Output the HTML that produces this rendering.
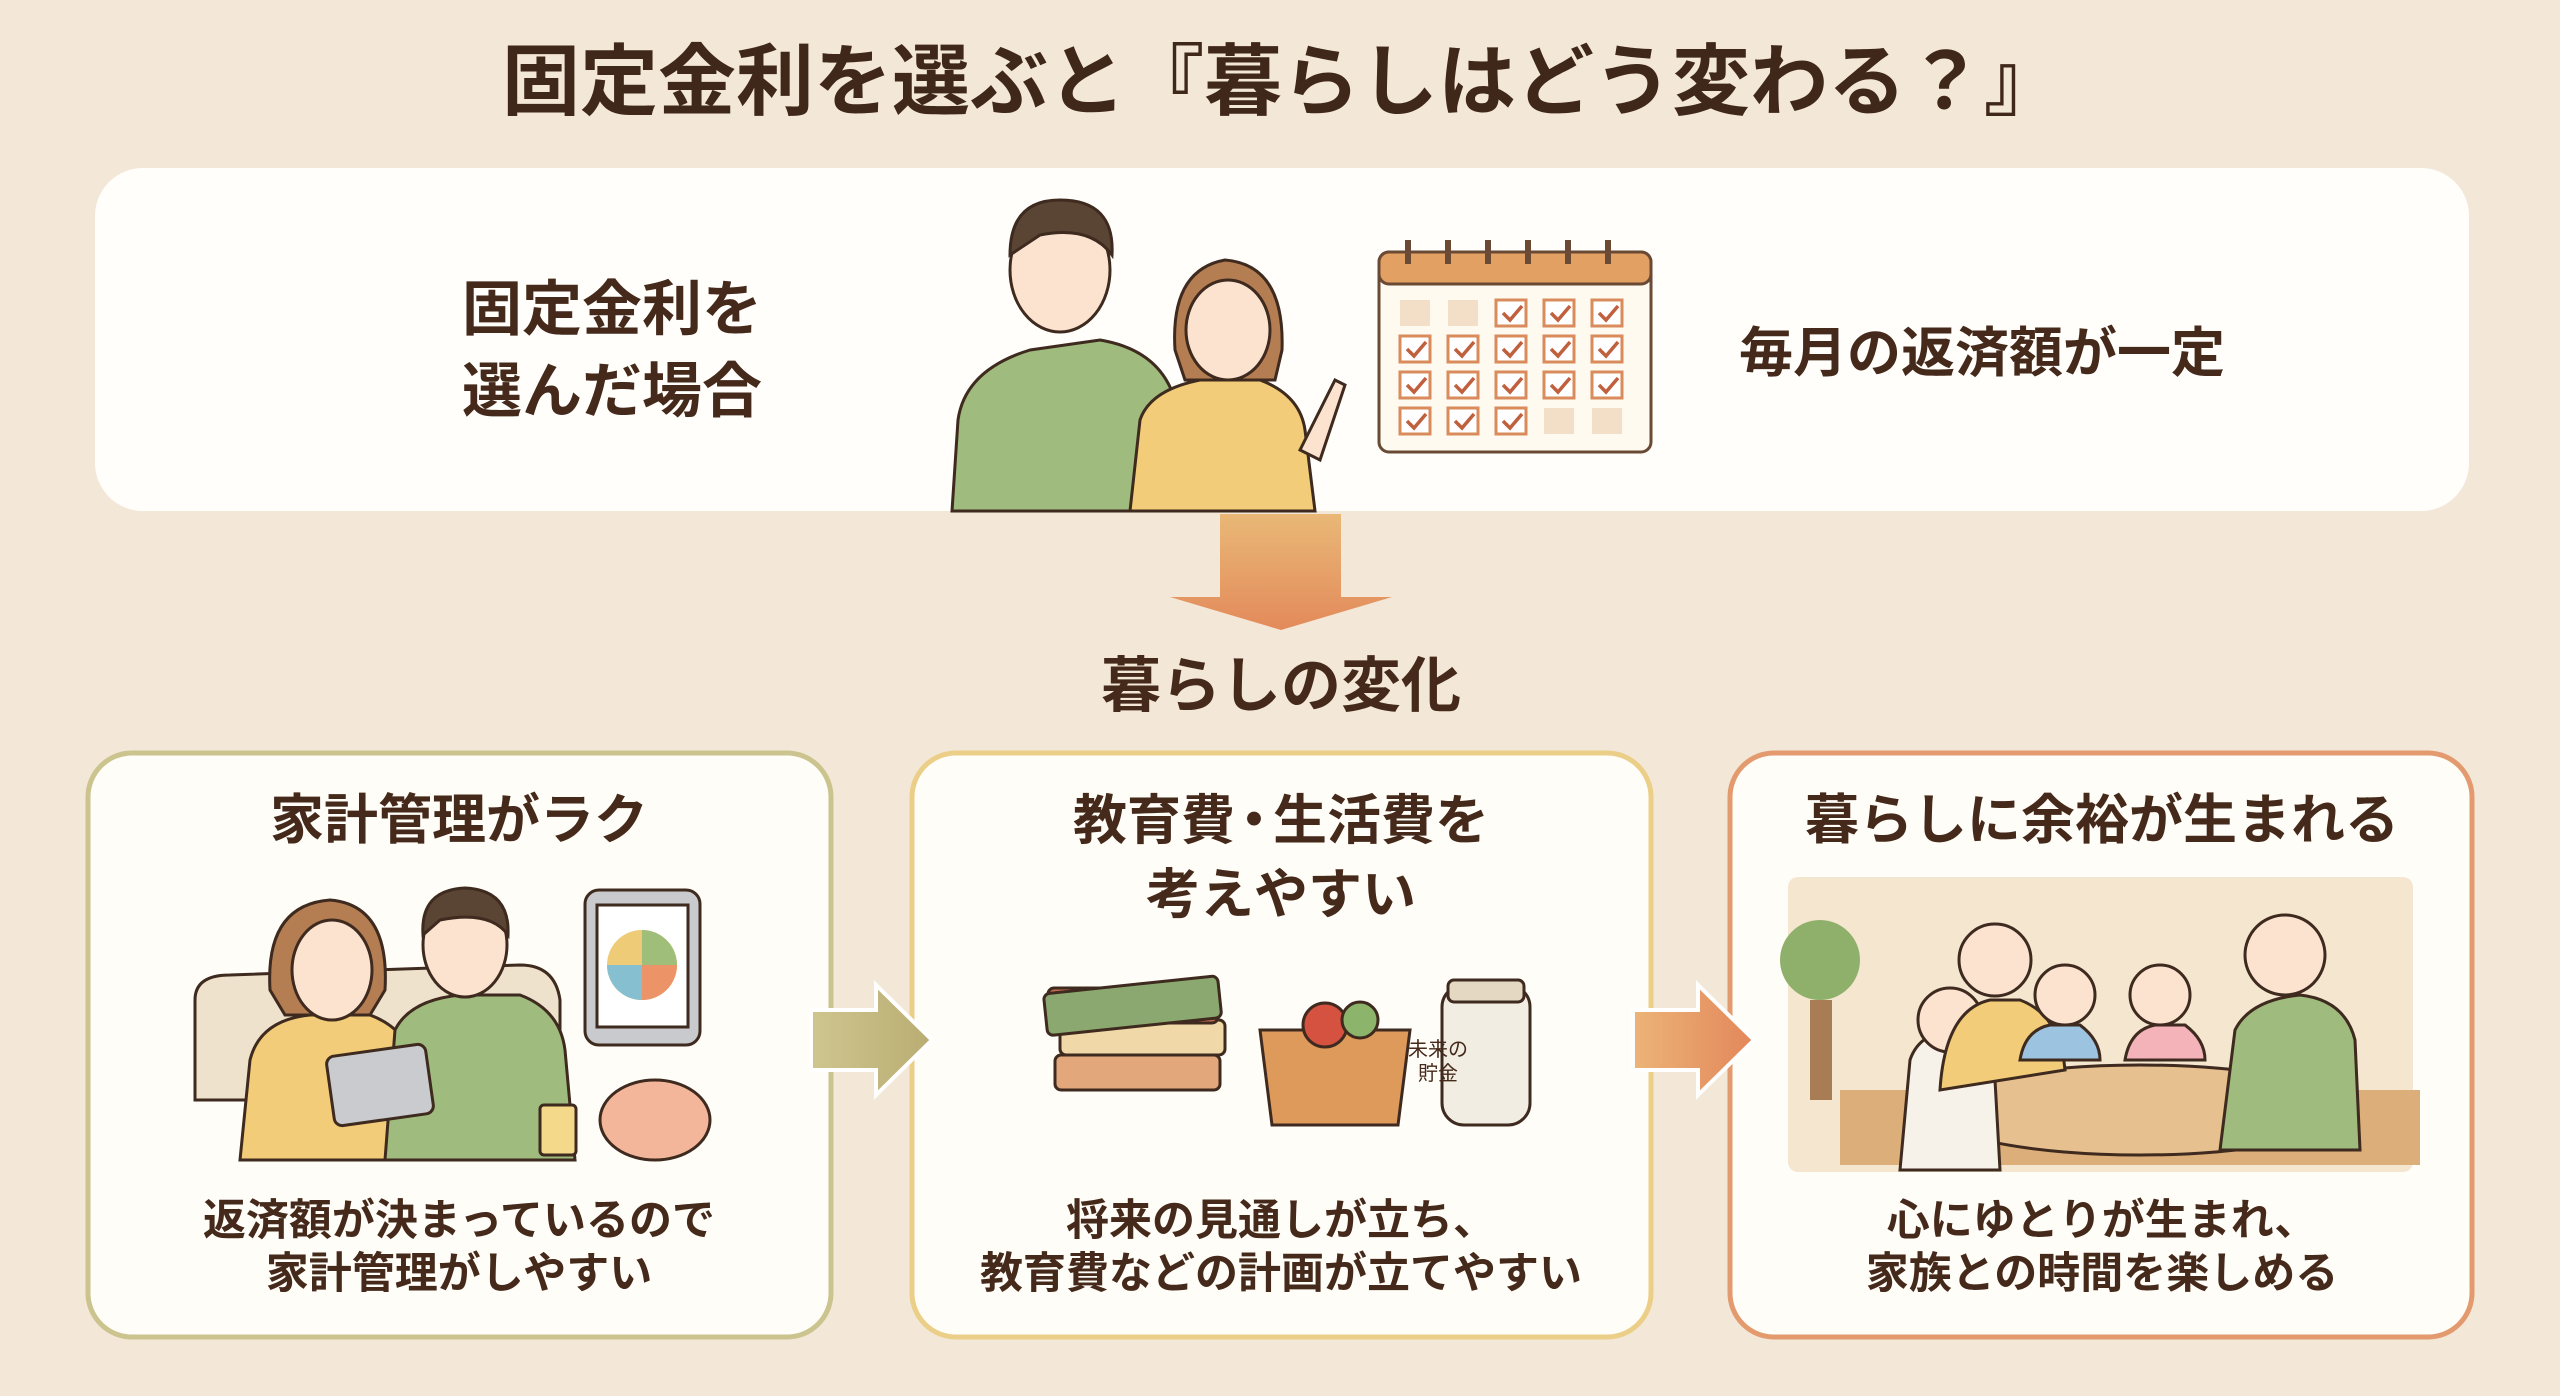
<!DOCTYPE html>
<html><head><meta charset="utf-8"><style>
html,body{margin:0;padding:0}
body{width:2560px;height:1396px;background:#f3e7d7;position:relative;overflow:hidden;font-family:"Liberation Sans","Noto Sans CJK JP",sans-serif;color:#45291a;font-weight:bold}
.t{position:absolute;white-space:nowrap;text-align:center;transform:translate(-50%,-50%);line-height:1.25}
svg{position:absolute;left:0;top:0}
</style></head><body>
<svg width="2560" height="1396" viewBox="0 0 2560 1396">
<defs>
<linearGradient id="ga" x1="0" y1="0" x2="0" y2="1"><stop offset="0" stop-color="#e9b877"/><stop offset="1" stop-color="#e38a5a"/></linearGradient>
<linearGradient id="g1" x1="0" y1="0" x2="1" y2="0"><stop offset="0" stop-color="#cfc58f"/><stop offset="1" stop-color="#b9ad72"/></linearGradient>
<linearGradient id="g2" x1="0" y1="0" x2="1" y2="0"><stop offset="0" stop-color="#ecb478"/><stop offset="1" stop-color="#e3875a"/></linearGradient>
</defs>
<rect x="95" y="168" width="2374" height="343" rx="48" fill="#fffefb"/>
<g stroke="#3e2a1e" stroke-width="3">
<path d="M952 511 L958 420 Q965 370 1030 350 L1100 340 Q1160 350 1175 400 L1180 511Z" fill="#9fbb7e"/>
<ellipse cx="1060" cy="270" rx="50" ry="62" fill="#fbe3d0"/>
<path d="M1010 255 Q1010 200 1060 200 Q1115 200 1112 255 Q1090 225 1040 235Z" fill="#5a4433"/>
<path d="M1130 511 L1140 420 Q1150 390 1200 380 L1260 380 Q1300 395 1305 430 L1315 511Z" fill="#f2cc78"/>
<path d="M1175 350 Q1170 270 1225 260 Q1285 265 1282 350 L1275 380 L1185 380Z" fill="#b57e52"/>
<ellipse cx="1228" cy="330" rx="42" ry="50" fill="#fbe3d0"/>
<path d="M1300 450 L1335 380 L1345 385 L1320 460Z" fill="#fbe3d0"/>
</g>
<g stroke="#6a4a35" stroke-width="3">
<rect x="1379" y="252" width="272" height="200" rx="10" fill="#fffaf0"/>
<rect x="1379" y="252" width="272" height="32" rx="10" fill="#e2a062"/>
</g>
<g fill="#6a4a35">
<rect x="1405" y="240" width="6" height="24"/><rect x="1445" y="240" width="6" height="24"/><rect x="1485" y="240" width="6" height="24"/><rect x="1525" y="240" width="6" height="24"/><rect x="1565" y="240" width="6" height="24"/><rect x="1605" y="240" width="6" height="24"/>
</g>
<g fill="#fff" stroke="#d98b5b" stroke-width="3">
<rect x="1400" y="300" width="30" height="26" fill="#f3dfc8" stroke="none"/><rect x="1448" y="300" width="30" height="26" fill="#f3dfc8" stroke="none"/>
<rect x="1496" y="300" width="30" height="26"/><rect x="1544" y="300" width="30" height="26"/><rect x="1592" y="300" width="30" height="26"/>
<rect x="1400" y="336" width="30" height="26"/><rect x="1448" y="336" width="30" height="26"/><rect x="1496" y="336" width="30" height="26"/><rect x="1544" y="336" width="30" height="26"/><rect x="1592" y="336" width="30" height="26"/>
<rect x="1400" y="372" width="30" height="26"/><rect x="1448" y="372" width="30" height="26"/><rect x="1496" y="372" width="30" height="26"/><rect x="1544" y="372" width="30" height="26"/><rect x="1592" y="372" width="30" height="26"/>
<rect x="1400" y="408" width="30" height="26"/><rect x="1448" y="408" width="30" height="26"/><rect x="1496" y="408" width="30" height="26"/>
<rect x="1544" y="408" width="30" height="26" fill="#f3dfc8" stroke="none"/><rect x="1592" y="408" width="30" height="26" fill="#f3dfc8" stroke="none"/>
</g>
<g fill="none" stroke="#c0603e" stroke-width="3.5">
<path d="M1503 313 l7 7 l12 -14"/><path d="M1551 313 l7 7 l12 -14"/><path d="M1599 313 l7 7 l12 -14"/>
<path d="M1407 349 l7 7 l12 -14"/><path d="M1455 349 l7 7 l12 -14"/><path d="M1503 349 l7 7 l12 -14"/><path d="M1551 349 l7 7 l12 -14"/><path d="M1599 349 l7 7 l12 -14"/>
<path d="M1407 385 l7 7 l12 -14"/><path d="M1455 385 l7 7 l12 -14"/><path d="M1503 385 l7 7 l12 -14"/><path d="M1551 385 l7 7 l12 -14"/><path d="M1599 385 l7 7 l12 -14"/>
<path d="M1407 421 l7 7 l12 -14"/><path d="M1455 421 l7 7 l12 -14"/><path d="M1503 421 l7 7 l12 -14"/>
</g>
<path d="M1220 514 H1341 V597 H1392 L1281 630 L1170 597 H1220Z" fill="url(#ga)"/>
<rect x="88" y="753" width="743" height="584" rx="44" fill="#fffdf8" stroke="#cbc48f" stroke-width="5"/>
<rect x="912" y="753" width="739" height="584" rx="44" fill="#fffdf8" stroke="#ebcf88" stroke-width="5"/>
<rect x="1730" y="753" width="742" height="584" rx="44" fill="#fffdf8" stroke="#e39a6f" stroke-width="5"/>
<path d="M811 1010 H876 V985 L932 1040 L876 1095 V1070 H811Z" fill="url(#g1)" stroke="#fff" stroke-width="4"/>
<path d="M1633 1010 H1698 V985 L1754 1040 L1698 1095 V1070 H1633Z" fill="url(#g2)" stroke="#fff" stroke-width="4"/>
<g stroke="#3e2a1e" stroke-width="3">
<path d="M195 1100 V1000 Q195 975 230 975 L520 965 Q555 965 560 1000 V1100Z" fill="#efe2cc"/>
<path d="M240 1160 L250 1060 Q260 1020 310 1015 L370 1015 Q410 1030 415 1070 L420 1160Z" fill="#f2cc78"/>
<path d="M270 990 Q265 905 330 900 Q390 905 385 990 L370 1015 L285 1015Z" fill="#b57e52"/>
<ellipse cx="332" cy="970" rx="40" ry="50" fill="#fbe3d0"/>
<path d="M385 1160 L395 1030 Q410 1000 460 995 L520 995 Q560 1010 565 1050 L575 1160Z" fill="#9fbb7e"/>
<ellipse cx="465" cy="945" rx="42" ry="52" fill="#fbe3d0"/>
<path d="M423 935 Q420 890 465 888 Q510 890 508 935 Q490 910 440 920Z" fill="#5a4433"/>
<rect x="330" y="1050" width="100" height="70" rx="8" fill="#c9cbcf" transform="rotate(-8 380 1085)"/>
<rect x="585" y="890" width="115" height="155" rx="14" fill="#c8cacd"/>
<rect x="597" y="905" width="91" height="122" fill="#fff"/>
<rect x="540" y="1105" width="36" height="50" rx="4" fill="#f4d98a"/>
<ellipse cx="655" cy="1120" rx="55" ry="40" fill="#f4b69a"/>
</g>
<circle cx="642" cy="965" r="35" fill="#eecb76"/>
<path d="M642 965 V930 A35 35 0 0 1 677 965Z" fill="#9fbe7a"/>
<path d="M642 965 H677 A35 35 0 0 1 642 1000Z" fill="#ec9368"/>
<path d="M642 965 V1000 A35 35 0 0 1 607 965Z" fill="#86bfd0"/>
<g stroke="#3e2a1e" stroke-width="3">
<rect x="1055" y="1055" width="165" height="35" rx="6" fill="#e3a77c"/>
<rect x="1060" y="1020" width="165" height="35" rx="6" fill="#f0d8a8"/>
<rect x="1048" y="988" width="170" height="35" rx="6" fill="#c66e50"/>
<rect x="1045" y="985" width="175" height="42" rx="6" fill="#8ba870" transform="rotate(-6 1130 1005)"/>
<path d="M1260 1030 H1410 L1398 1125 H1272Z" fill="#dd9a5a"/>
<circle cx="1325" cy="1025" r="22" fill="#d4523f"/><circle cx="1360" cy="1020" r="18" fill="#8cb56b"/>
<rect x="1442" y="985" width="88" height="140" rx="22" fill="#f2ede2"/>
<rect x="1448" y="980" width="76" height="22" rx="6" fill="#e4d8c2"/>
</g>
<rect x="1788" y="877" width="625" height="295" rx="10" fill="#f5e6cf"/>
<g stroke="#3e2a1e" stroke-width="3">
<path d="M1840 1165 V1090 H2420 V1165Z" fill="#dcae7a" stroke="none"/>
<ellipse cx="2140" cy="1110" rx="210" ry="45" fill="#e7c08f"/>
<path d="M1900 1170 L1910 1060 Q1920 1030 1960 1030 Q1990 1040 1995 1080 L2000 1170Z" fill="#f6f2ea"/>
<circle cx="1950" cy="1020" r="32" fill="#fbe3d0"/>
<path d="M1940 1090 Q1945 1010 1990 1000 L2020 1000 Q2060 1015 2065 1070 Z" fill="#f2cc78"/>
<circle cx="1995" cy="960" r="36" fill="#fbe3d0"/>
<path d="M2020 1060 Q2025 1030 2050 1025 L2080 1025 Q2100 1040 2100 1060Z" fill="#9cc4e0"/>
<circle cx="2065" cy="995" r="30" fill="#fbe3d0"/>
<path d="M2125 1060 Q2130 1030 2155 1025 L2185 1025 Q2205 1040 2205 1060Z" fill="#f3b3b9"/>
<circle cx="2160" cy="995" r="30" fill="#fbe3d0"/>
<path d="M2220 1150 L2235 1030 Q2250 1000 2300 995 Q2345 1000 2355 1040 L2360 1150Z" fill="#9fbb7e"/>
<circle cx="2285" cy="955" r="40" fill="#fbe3d0"/>
</g>
<circle cx="1820" cy="960" r="40" fill="#8fb06b"/><rect x="1810" y="1000" width="22" height="100" fill="#a87d55"/>
</svg>
<div class="t" style="left:1282px;top:82px;font-size:78px;color:#3f271a">固定金利を選ぶと『暮らしはどう変わる？』</div>
<div class="t" style="left:612px;top:351px;font-size:60px;line-height:82px">固定金利を<br>選んだ場合</div>
<div class="t" style="left:1982px;top:354px;font-size:54px">毎月の返済額が一定</div>
<div class="t" style="left:1281px;top:686px;font-size:60px">暮らしの変化</div>
<div class="t" style="left:459px;top:821px;font-size:54px">家計管理がラク</div>
<div class="t" style="left:1281px;top:858px;font-size:54px;line-height:74px">教育費<span style="letter-spacing:-8px;margin-left:-8px">・</span>生活費を<br>考えやすい</div>
<div class="t" style="left:2102px;top:821px;font-size:54px">暮らしに余裕が生まれる</div>
<div class="t" style="left:459px;top:1248px;font-size:43px;line-height:53px">返済額が決まっているので<br>家計管理がしやすい</div>
<div class="t" style="left:1281px;top:1248px;font-size:43px;line-height:53px">将来の見通しが立ち、<br>教育費などの計画が立てやすい</div>
<div class="t" style="left:2102px;top:1248px;font-size:43px;line-height:53px">心にゆとりが生まれ、<br>家族との時間を楽しめる</div>
<div class="t" style="left:1438px;top:1062px;font-size:20px;line-height:24px;font-weight:normal">未来の<br>貯金</div>
</body></html>
